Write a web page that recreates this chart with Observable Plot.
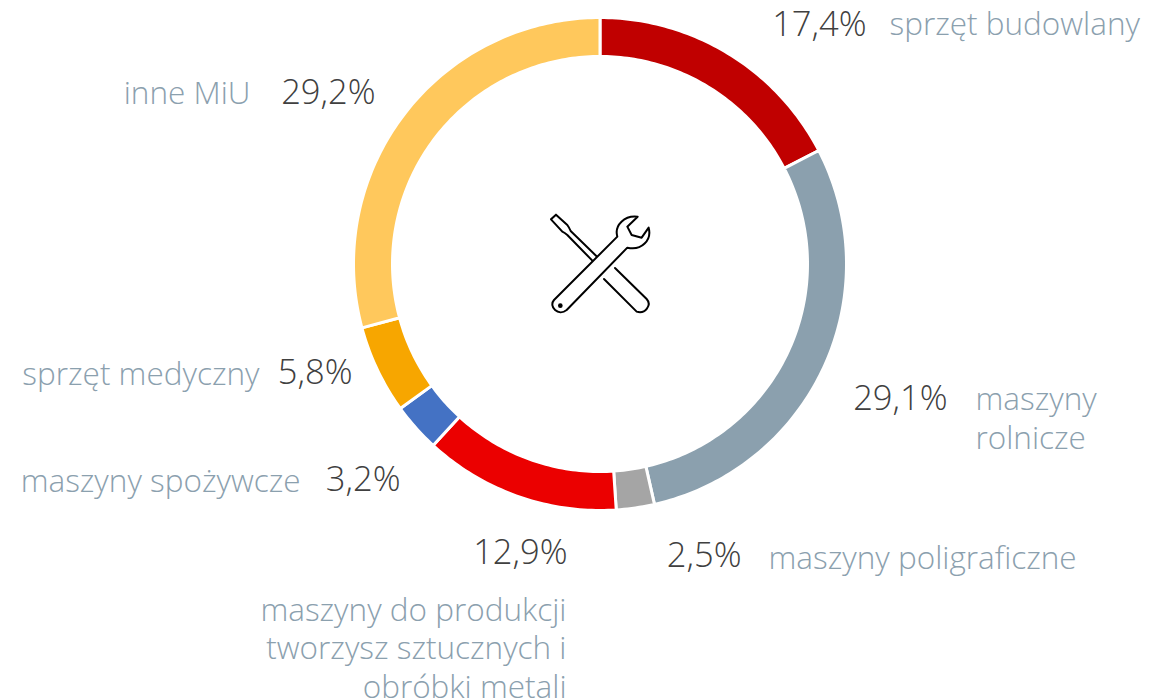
<!DOCTYPE html>
<html lang="pl">
<head>
<meta charset="utf-8">
<script src="https://cdn.jsdelivr.net/npm/d3@7"></script>
<script src="https://cdn.jsdelivr.net/npm/@observablehq/plot@0.6"></script>
<style>html,body{margin:0;padding:0;background:#fff}svg{display:block}</style>
</head>
<body>
<div id="chart"></div>
<script>
const names = ["sprzęt budowlany","maszyny\nrolnicze","maszyny poligraficzne","maszyny do produkcji\ntworzysz sztucznych i\nobróbki metali","maszyny spożywcze","sprzęt medyczny","inne MiU"];
const shares = [17.4,29.1,2.5,12.9,3.2,5.8,29.2];
const colors = ["#c00000","#8ba0ae","#a5a5a5","#eb0000","#4472c4","#f7a600","#ffc85c"];

// label placement (annotation layout, px)
const valueX = [866,947,741,567,400,352,375];
const valueY = [24,398,555,552,479,372,92];
const nameX  = [889,975,768,566,300,259,250];
const nameY  = [22,416.5,556,646.5,479,372,91];
const nameAnchor = ["start","start","start","end","end","end","end"];

const W = 1169, H = 700, cx = 600, cy = 264, rOut = 246.5, rIn = 207.5;
const total = d3.sum(shares);
const ring = [];
let cum = 0;
shares.forEach((v, i) => {
  const a0 = cum / total * 2 * Math.PI, a1 = (cum + v) / total * 2 * Math.PI;
  cum += v;
  const n = Math.max(2, Math.ceil((a1 - a0) * 60));
  for (let k = 0; k <= n; ++k) {
    const a = a0 + (a1 - a0) * k / n, s = Math.sin(a), c = Math.cos(a);
    ring.push({i, x1: cx + rOut * s, y1: cy - rOut * c, x2: cx + rIn * s, y2: cy - rIn * c});
  }
});
const rows = names.map((name, i) => ({name, value: shares[i], i}));
const pct = d => d3.format(".1f")(d.value).replace(".", ",") + "%";

const FONT = "'Open Sans','Noto Sans',sans-serif";

function icon() {
  const g = d3.create("svg:g")
    .attr("transform", "translate(530,195) scale(0.3333)")
    .attr("fill", "none").attr("stroke", "#000").attr("stroke-width", 6)
    .attr("stroke-linejoin", "round").attr("stroke-linecap", "round");
  g.append("path").attr("d", "M190,200L112,120Q104,113 97,110L63,73L78,59L112,90Q118,98 122,108L202,186");
  g.append("path").attr("d", "M255,219L350,312C366,330 346,358 320,350L222,252");
  g.append("path").attr("d", "M262,125C252,90 285,60 323,65L292,95L305,120L335,128L356,98C366,135 335,168 292,158L110,345C85,365 55,335 72,315Z").attr("fill", "#fff");
  g.append("circle").attr("cx", 91).attr("cy", 332).attr("r", 7).attr("fill", "#000").attr("stroke", "none");
  return g.node();
}

const nameOpts = {x: d => nameX[d.i], y: d => nameY[d.i], text: "name",
  fontSize: 31.5, fontWeight: 300, fill: "#8ba0ae", fontFamily: FONT, lineAnchor: "middle", lineHeight: 1.22};

const chart = Plot.plot({
  width: W, height: H, margin: 0,
  style: {background: "#fff", fontFamily: FONT},
  x: {type: "linear", domain: [0, W], range: [0, W], axis: null},
  y: {type: "linear", domain: [0, H], range: [0, H], axis: null},
  marks: [
    Plot.area(ring, {x1: "x1", y1: "y1", x2: "x2", y2: "y2", z: "i",
      fill: d => colors[d.i], stroke: "#fff", strokeWidth: 3}),
    icon,
    Plot.text(rows, {x: d => valueX[d.i], y: d => valueY[d.i], text: pct, textAnchor: "end",
      fontSize: 34.5, fontWeight: 300, fill: "#404040", fontFamily: FONT, lineAnchor: "middle"}),
    Plot.text(rows.filter(d => nameAnchor[d.i] === "start"), {...nameOpts, textAnchor: "start"}),
    Plot.text(rows.filter(d => nameAnchor[d.i] === "end"), {...nameOpts, textAnchor: "end"})
  ]
});
document.getElementById("chart").append(chart);
</script>
</body>
</html>
